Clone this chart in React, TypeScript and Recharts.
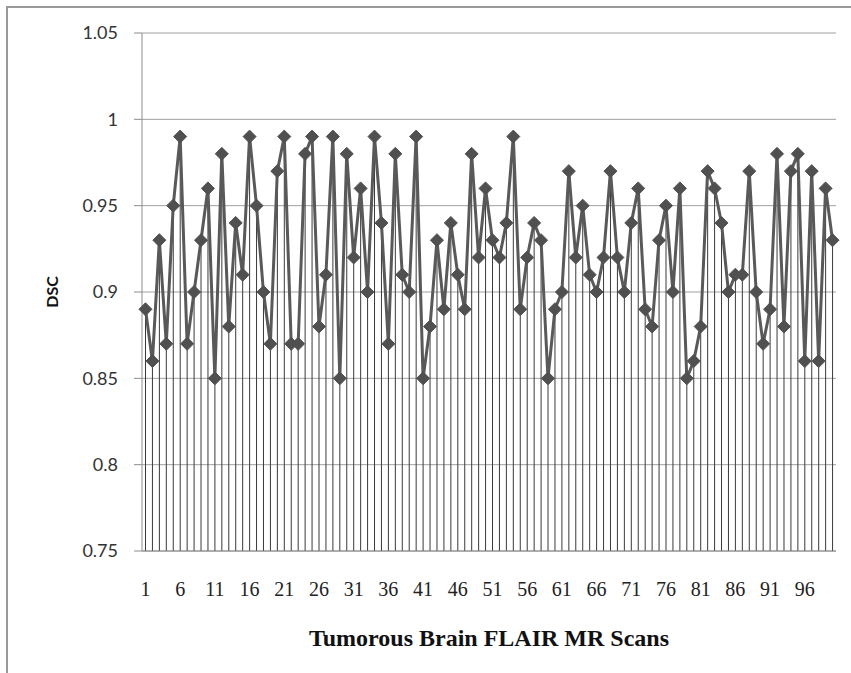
import { ComposedChart, Line, Bar, XAxis, YAxis, CartesianGrid } from 'recharts';

// DSC per scan (scan 1..100)
const dscValues = [
  0.89, 0.86, 0.93, 0.87, 0.95, 0.99, 0.87, 0.9, 0.93, 0.96,
  0.85, 0.98, 0.88, 0.94, 0.91, 0.99, 0.95, 0.9, 0.87, 0.97,
  0.99, 0.87, 0.87, 0.98, 0.99, 0.88, 0.91, 0.99, 0.85, 0.98,
  0.92, 0.96, 0.9, 0.99, 0.94, 0.87, 0.98, 0.91, 0.9, 0.99,
  0.85, 0.88, 0.93, 0.89, 0.94, 0.91, 0.89, 0.98, 0.92, 0.96,
  0.93, 0.92, 0.94, 0.99, 0.89, 0.92, 0.94, 0.93, 0.85, 0.89,
  0.9, 0.97, 0.92, 0.95, 0.91, 0.9, 0.92, 0.97, 0.92, 0.9,
  0.94, 0.96, 0.89, 0.88, 0.93, 0.95, 0.9, 0.96, 0.85, 0.86,
  0.88, 0.97, 0.96, 0.94, 0.9, 0.91, 0.91, 0.97, 0.9, 0.87,
  0.89, 0.98, 0.88, 0.97, 0.98, 0.86, 0.97, 0.86, 0.96, 0.93,
];

const yTicks = [0.75, 0.8, 0.85, 0.9, 0.95, 1, 1.05];

const chartData = dscValues.map((v, i) => ({ scan: String(i + 1), dsc: v }));

const Diamond = (props: any) => {
  const { cx, cy, index } = props;
  if (cx == null || cy == null) return <g key={index} />;
  const r = 6.5;
  return (
    <path
      key={index}
      d={`M${cx},${cy - r} L${cx + r},${cy} L${cx},${cy + r} L${cx - r},${cy} Z`}
      fill="#505050"
      stroke="#505050"
      strokeWidth={1}
    />
  );
};

export default function App() {
  return (
    <div style={{ position: 'fixed', left: 0, top: 0, width: 851, height: 673, background: '#fff', overflow: 'hidden' }}>
      <div
        style={{
          position: 'absolute',
          left: 6,
          top: 6,
          width: 900,
          height: 900,
          borderTop: '2px solid #9a9a9a',
          borderLeft: '2px solid #9a9a9a',
        }}
      />
      <div style={{ position: 'absolute', left: 0, top: 0 }}>
        <ComposedChart
          width={851}
          height={673}
          data={chartData}
          margin={{ top: 33, right: 15, left: 0, bottom: 0 }}
        >
          <CartesianGrid vertical={false} stroke="#a0a0a0" strokeWidth={1} />
          <XAxis
            dataKey="scan"
            interval={4}
            height={122}
            tickLine={false}
            tickSize={0}
            tickMargin={31}
            axisLine={{ stroke: '#8c8c8c' }}
            tick={{ fontFamily: '"Liberation Serif", serif', fontSize: 20, fill: '#222' }}
            label={{
              value: 'Tumorous Brain FLAIR MR Scans',
              position: 'insideBottom',
              offset: 27,
              style: { fontFamily: '"Liberation Serif", serif', fontSize: 24, fontWeight: 'bold', fill: '#111' },
            }}
          />
          <YAxis
            width={142}
            domain={[0.75, 1.05]}
            ticks={yTicks}
            interval={0}
            tickSize={8}
            tickMargin={16}
            tickLine={{ stroke: '#8c8c8c' }}
            axisLine={{ stroke: '#8c8c8c' }}
            tickFormatter={(v: number) => String(v)}
            tick={{ fontFamily: 'Lato, sans-serif', fontSize: 18, fill: '#333' }}
            label={{
              value: 'DSC',
              angle: -90,
              position: 'insideLeft',
              offset: 52,
              style: { textAnchor: 'middle', fontFamily: 'Lato, sans-serif', fontSize: 16, fontWeight: 'bold', fill: '#111' },
            }}
          />
          <Bar dataKey="dsc" barSize={1} fill="#3a3a3a" isAnimationActive={false} />
          <Line
            type="linear"
            dataKey="dsc"
            stroke="#595959"
            strokeWidth={3}
            dot={Diamond}
            activeDot={false}
            isAnimationActive={false}
          />
        </ComposedChart>
      </div>
    </div>
  );
}
